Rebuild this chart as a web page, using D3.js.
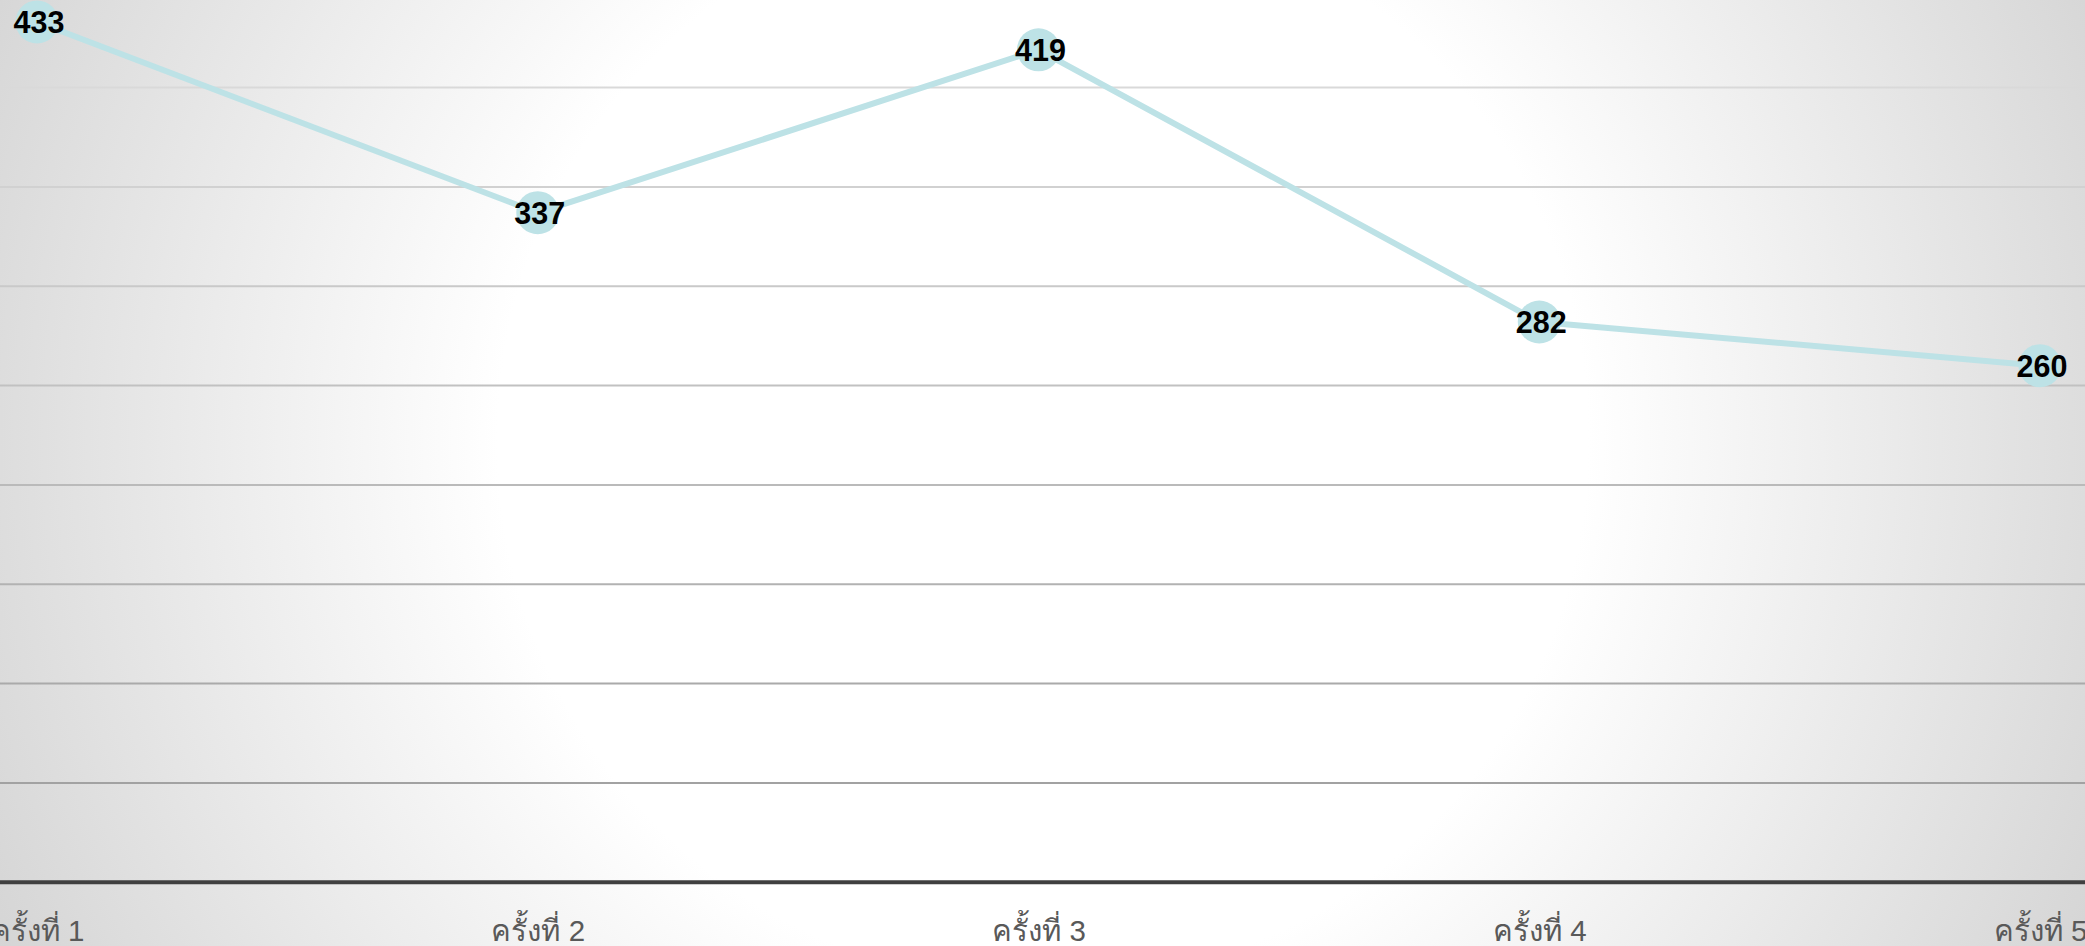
<!DOCTYPE html>
<html>
<head>
<meta charset="utf-8">
<script src="https://cdn.jsdelivr.net/npm/d3@7"></script>
<style>
  html, body { margin: 0; padding: 0; overflow: hidden; background: #ffffff; }
  svg { display: block; }
</style>
</head>
<body>
<svg id="chart" width="2085" height="946"></svg>
<script>
// Rounds and counts per round
const categories = ["ครั้งที่ 1", "ครั้งที่ 2", "ครั้งที่ 3", "ครั้งที่ 4", "ครั้งที่ 5"];
const values = [433, 337, 419, 282, 260];
const gridValues = [50, 100, 150, 200, 250, 300, 350, 400];

const W = 2085, H = 946;
const svg = d3.select("#chart");

// Soft radial background: white centre fading to grey at the edges
const defs = svg.append("defs");
const bg = defs.append("radialGradient")
  .attr("id", "bgGrad")
  .attr("gradientUnits", "userSpaceOnUse")
  .attr("cx", 1043).attr("cy", 440).attr("r", 1160);
bg.append("stop").attr("offset", 0).attr("stop-color", "#ffffff");
bg.append("stop").attr("offset", 0.47).attr("stop-color", "#ffffff");
bg.append("stop").attr("offset", 1).attr("stop-color", "#d5d5d5");
svg.append("rect").attr("width", W).attr("height", H).attr("fill", "url(#bgGrad)");

const x = d3.scalePoint().domain(categories).range([37, 2040]);
const y = d3.scaleLinear().domain([0, 450]).range([882.3, -11.8]);

// Horizontal gridlines, darker toward the baseline
const gridColor = d3.scaleLinear().domain([50, 400]).range(["#a2a2a2", "#d9d9d9"]);
svg.append("g")
  .selectAll("line")
  .data(gridValues)
  .join("line")
  .attr("x1", 0).attr("x2", W)
  .attr("y1", d => y(d)).attr("y2", d => y(d))
  .attr("stroke", d => gridColor(d))
  .attr("stroke-width", 2);

// Category axis
const xAxis = d3.axisBottom(x).tickSize(0).tickPadding(0);
const gx = svg.append("g")
  .attr("transform", `translate(0,${y(0)})`)
  .call(xAxis);
gx.select(".domain").remove();
gx.append("line")
  .attr("x1", 0).attr("x2", W)
  .attr("y1", 0).attr("y2", 0)
  .attr("stroke", "#404040")
  .attr("stroke-width", 4);
gx.selectAll(".tick text")
  .attr("y", 59)
  .attr("dy", null)
  .attr("fill", "#595959")
  .attr("font-family", "'Liberation Sans', Arial, sans-serif")
  .attr("font-size", 29.5)
  .attr("text-anchor", "middle");

// Series line
const series = categories.map((c, i) => ({ c, v: values[i] }));
svg.append("path")
  .datum(series)
  .attr("fill", "none")
  .attr("stroke", "#bde2e6")
  .attr("stroke-width", 6)
  .attr("stroke-linejoin", "round")
  .attr("d", d3.line().x(d => x(d.c)).y(d => y(d.v)));

// Point markers
svg.append("g")
  .selectAll("circle")
  .data(series)
  .join("circle")
  .attr("cx", d => x(d.c))
  .attr("cy", d => y(d.v))
  .attr("r", 21.5)
  .attr("fill", "#bde2e6");

// Value labels
svg.append("g")
  .selectAll("text")
  .data(series)
  .join("text")
  .attr("x", d => x(d.c) + 2)
  .attr("y", d => y(d.v) + 11)
  .attr("text-anchor", "middle")
  .attr("font-family", "'Liberation Sans', Arial, sans-serif")
  .attr("font-weight", "bold")
  .attr("font-size", 30.5)
  .attr("fill", "#000000")
  .text(d => d.v);
</script>
</body>
</html>
